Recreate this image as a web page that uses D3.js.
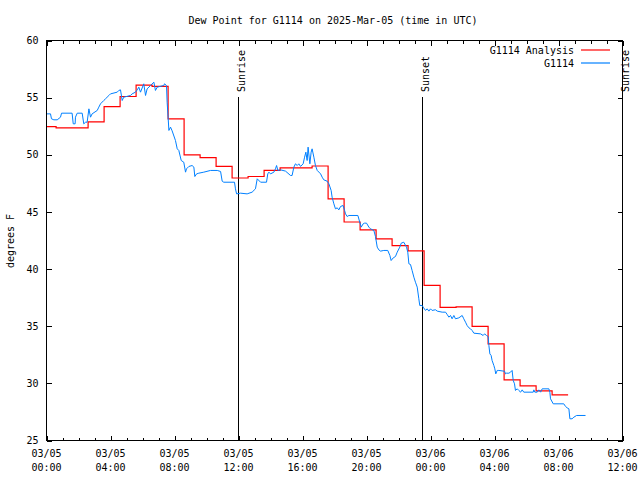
<!DOCTYPE html>
<html><head><meta charset="utf-8">
<script src="https://cdn.jsdelivr.net/npm/d3@7"></script>
<style>body{margin:0;background:#fff}svg{display:block}text{font-family:"DejaVu Sans Mono",monospace;font-size:10px;fill:#000}</style>
</head><body>
<svg id="c" width="640" height="480"></svg>
<script>
// ---- data ----
const chartTitle = "Dew Point for G1114 on 2025-Mar-05 (time in UTC)";
const yAxisTitle = "degrees F";
const startUTC = Date.UTC(2025, 2, 5, 0, 0);
const spanHours = 36;
const xTickHours = [0, 4, 8, 12, 16, 20, 24, 28, 32, 36];
const xTickDays = ["03/05","03/05","03/05","03/05","03/05","03/05","03/06","03/06","03/06","03/06"];
const xTickClock = ["00:00","04:00","08:00","12:00","16:00","20:00","00:00","04:00","08:00","12:00"];
const yTicks = [25, 30, 35, 40, 45, 50, 55, 60];
const sunLabels = ["Sunrise", "Sunset", "Sunrise"];
const sunHours = [12, 23.5, 36];
const seriesNames = ["G1114 Analysis", "G1114"];
const seriesColors = ["#ff0000", "#0080ff"];

// analysis (hourly steps), hours after 03/05 00:00 UTC
const anaHours = [0, 0.6, 1.6, 2.6, 3.6, 4.6, 5.6, 6.6, 7.6, 8.6, 9.6, 10.6, 11.6, 12.6, 13.6, 14.6, 15.6, 16.6, 17.6, 18.6, 19.6, 20.6, 21.6, 22.6, 23.6, 24.6, 25.6, 26.6, 27.6, 28.6, 29.6, 30.6, 31.6, 32.6];
const anaDew = [52.47, 52.36, 52.36, 52.88, 54.22, 55.10, 56.09, 55.98, 53.15, 50.00, 49.76, 48.98, 47.97, 48.10, 48.63, 48.86, 48.86, 49.02, 46.15, 44.12, 43.43, 42.65, 42.06, 41.60, 38.58, 36.64, 36.70, 34.98, 33.46, 30.31, 29.78, 29.35, 29.00, 29.00];

// observations
const obsHours = [0.0,0.25,0.31,0.46,0.67,0.875,0.94,1.6,1.67,1.79,1.81,1.92,2.23,2.33,2.44,2.54,2.65,2.75,2.85,3.17,3.27,3.375,3.58,3.69,3.9,4.0,4.42,4.52,4.625,4.73,4.83,5.25,5.35,5.56,5.67,5.77,5.875,6.08,6.19,6.29,6.5,6.71,6.81,6.92,7.33,7.375,7.5,7.54,7.6,7.65,7.75,
7.85,8.06,8.17,8.27,8.42,8.58,8.69,8.75,8.9,9.1,9.21,9.27,9.38,9.52,9.83,10.25,10.67,10.88,10.98,11.08,11.75,11.81,11.88,12.13,12.54,12.85,13.06,13.17,13.38,13.75,13.83,13.9,14.0,14.21,14.31,14.38,14.46,14.63,14.94,15.25,15.35,15.46,15.56,15.67,15.77,15.88,16.04,16.13,16.21,16.29,16.35,16.46,16.54,16.6,16.71,16.81,16.92,17.13,17.23,17.33,17.54,17.65,
17.79,17.85,17.96,18.06,18.17,18.27,18.38,18.54,18.63,18.69,18.79,18.9,19.46,19.58,19.67,19.79,19.88,20.0,20.15,20.25,20.46,20.56,20.67,20.77,20.88,21.08,21.33,21.46,21.54,21.67,21.81,21.92,22.08,
22.17,22.33,22.5,22.58,22.65,22.75,22.85,22.96,23.06,23.17,23.27,23.33,23.48,23.54,23.69,23.79,23.9,24.0,24.1,24.31,24.42,24.73,24.94,25.04,25.15,25.25,25.35,25.46,25.56,25.77,25.98,26.08,26.19,26.29,26.4,26.5,26.6,26.71,27.13,27.29,27.38,27.5,27.6,27.65,27.71,27.79,27.85,27.96,28.02,28.08,28.17,28.27,28.63,28.69,28.75,28.9,29.0,29.1,29.17,29.25,29.31,29.42,29.52,29.63,29.73,29.83,30.42,30.46,30.52,30.67,30.77,30.88,30.98,31.4,31.46,31.5,31.67,32.33,32.44,32.54,32.65,32.71,32.85,32.96,33.13,33.69];
const obsDew = [53.58,53.58,53.15,53.06,53.06,53.29,53.64,53.64,52.71,52.71,53.29,53.64,53.64,52.71,52.85,52.85,54.02,53.29,53.58,53.88,54.17,54.46,54.75,54.9,55.19,55.33,55.48,55.63,55.68,54.75,55.04,55.19,55.33,55.48,55.68,55.92,55.48,56.21,55.19,55.77,56.06,56.35,55.63,55.92,56.06,56.21,56.06,54.6,53.29,52.13,52.42,
52.1,51.25,50.52,50.38,49.5,49.35,48.48,48.77,48.98,49.06,48.92,48.1,48.33,48.39,48.48,48.63,48.63,48.54,47.69,47.6,47.6,47.02,46.58,46.64,46.58,46.73,47.02,47.9,47.6,47.6,48.33,48.48,48.33,48.48,48.77,49.06,48.63,48.68,48.57,48.19,48.19,48.92,49.21,49.06,49.21,48.98,49.21,49.79,50.23,49.5,50.67,49.21,50.23,50.52,49.79,49.06,48.63,48.33,48.04,47.81,47.69,47.46,
46.88,46.29,45.71,45.27,45.36,45.18,45.48,45.56,45.13,44.83,44.6,44.69,44.69,44.1,43.67,43.96,44.02,44.02,43.67,43.52,43.38,42.85,41.92,41.68,41.57,41.63,41.63,41.19,40.75,40.98,41.1,41.48,41.92,
42.27,42.35,41.92,41.48,40.46,40.4,39.88,39.29,38.85,38.42,37.4,36.81,36.81,36.67,36.38,36.52,36.32,36.52,36.38,36.44,36.32,36.23,36.23,36.03,35.79,35.94,35.65,35.94,35.65,35.73,35.94,35.65,35.35,35.06,34.86,34.77,34.63,34.39,34.33,34.19,34.33,34.19,34.1,33.31,32.58,32.44,32.0,31.56,31.27,30.83,31.13,31.13,31.06,30.83,30.89,30.89,30.98,31.13,30.25,29.96,29.38,29.52,29.38,29.23,29.43,29.23,29.23,29.43,29.23,29.23,29.43,29.23,29.52,29.52,29.23,28.65,28.21,28.21,27.98,27.86,27.77,26.9,26.9,27.04,27.19,27.19];

// ---- chart ----
const H = 3600 * 1000;
const toDate = h => new Date(startUTC + h * H);
const svg = d3.select("#c");
svg.append("rect").attr("width", 640).attr("height", 480).attr("fill", "#fff");

const L = 46.5, R = 622.5, T = 40.5, B = 440.5;
const x = d3.scaleUtc().domain([toDate(0), toDate(spanHours)]).range([L, R]);
const y = d3.scaleLinear().domain([25, 60]).range([B, T]);

const minorHours = d3.range(0, spanHours + 1);
function tickAxis(axisFn, vals, size, ty) {
  const g = svg.append("g").attr("transform", `translate(0,${ty})`)
    .call(axisFn(x).tickValues(vals.map(toDate)).tickSize(-size).tickFormat(""));
  g.select(".domain").remove();
  g.selectAll("line").attr("stroke", "#000").attr("shape-rendering", "crispEdges");
}
tickAxis(d3.axisBottom, minorHours, 3, B);
tickAxis(d3.axisBottom, xTickHours, 5, B);
tickAxis(d3.axisTop, minorHours, 3, T);
tickAxis(d3.axisTop, xTickHours, 5, T);

// y ticks
const gl = svg.append("g").attr("transform", `translate(${L},0)`)
  .call(d3.axisLeft(y).tickValues(yTicks).tickSize(-5).tickPadding(8));
gl.select(".domain").remove();
gl.selectAll("line").attr("stroke", "#000").attr("shape-rendering", "crispEdges");
gl.selectAll("text").attr("font-family", "DejaVu Sans Mono").attr("font-size", 10).attr("fill", "#000");
const gr = svg.append("g").attr("transform", `translate(${R},0)`)
  .call(d3.axisRight(y).tickValues(yTicks).tickSize(-5).tickFormat(""));
gr.select(".domain").remove();
gr.selectAll("line").attr("stroke", "#000").attr("shape-rendering", "crispEdges");

// x labels (two lines)
const xl = svg.append("g");
xTickHours.forEach((h, i) => {
  const t = xl.append("text").attr("text-anchor", "middle");
  t.append("tspan").attr("x", x(toDate(h))).attr("y", 457).text(xTickDays[i]);
  t.append("tspan").attr("x", x(toDate(h))).attr("y", 471).text(xTickClock[i]);
});

// sunrise / sunset markers
sunHours.forEach((h, i) => {
  const sx = x(toDate(h));
  svg.append("line").attr("x1", sx).attr("x2", sx).attr("y1", 97).attr("y2", B)
    .attr("stroke", "#000").attr("stroke-width", 1).attr("shape-rendering", "crispEdges");
  svg.append("text").attr("transform", `translate(${sx + 6},92) rotate(-90)`)
    .attr("text-anchor", "start").text(sunLabels[i]);
});

// series
const anaData = anaHours.map((h, i) => ({ d: toDate(h), v: anaDew[i] }));
const obsData = obsHours.map((h, i) => ({ d: toDate(h), v: obsDew[i] }));
const stepLine = d3.line().x(p => x(p.d)).y(p => y(p.v)).curve(d3.curveStepAfter);
const plainLine = d3.line().x(p => x(p.d)).y(p => y(p.v));
svg.append("path").attr("d", stepLine(anaData)).attr("fill", "none")
  .attr("stroke", seriesColors[0]).attr("stroke-width", 1.2);
svg.append("path").attr("d", plainLine(obsData)).attr("fill", "none")
  .attr("stroke", seriesColors[1]).attr("stroke-width", 1);

// border
svg.append("rect").attr("x", L).attr("y", T).attr("width", R - L).attr("height", B - T)
  .attr("fill", "none").attr("stroke", "#000").attr("shape-rendering", "crispEdges");

// legend
seriesNames.forEach((n, i) => {
  const ly = 50 + i * 13;
  svg.append("text").attr("x", 574).attr("y", ly).attr("dy", "0.35em")
    .attr("text-anchor", "end").text(n);
  svg.append("line").attr("x1", 581).attr("x2", 610).attr("y1", ly).attr("y2", ly)
    .attr("stroke", seriesColors[i]).attr("stroke-width", 1.2);
});

// titles
svg.append("text").attr("x", 333).attr("y", 20).attr("dy", "0.35em")
  .attr("text-anchor", "middle").text(chartTitle);
svg.append("text").attr("transform", "translate(14,241) rotate(-90)")
  .attr("text-anchor", "middle").text(yAxisTitle);
</script>
</body></html>
